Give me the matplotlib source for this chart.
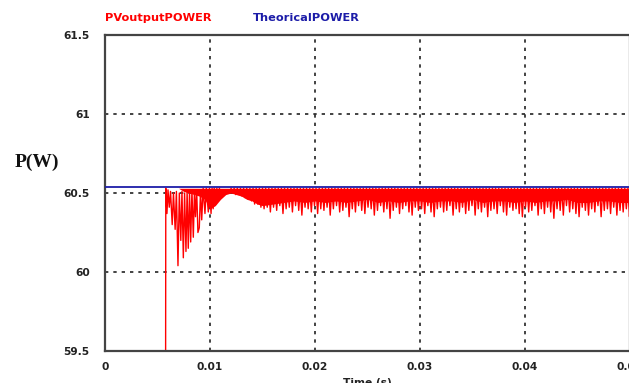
import numpy as np
import matplotlib
matplotlib.use("Agg")
import matplotlib.pyplot as plt

# ---------------- data ----------------
theory_power = 60.54          # W, theoretical MPP power
ripple_peak = 60.53           # top of steady-state ripple

# start-up transient (time s, power W)
trans_t = [0.00577, 0.00579, 0.00590, 0.00600, 0.00612, 0.00624, 0.00640, 0.00652,
           0.00668, 0.00680, 0.00695, 0.00708, 0.00722, 0.00733, 0.00746, 0.00758,
           0.00771, 0.00782, 0.00793, 0.00805, 0.00816, 0.00828, 0.00841, 0.00852,
           0.00862, 0.00873, 0.00885, 0.00898, 0.00910, 0.00921, 0.00935, 0.00952,
           0.00965, 0.00984, 0.00995, 0.01010, 0.01020, 0.01030, 0.01040, 0.01055,
           0.01065, 0.01080, 0.01090]
trans_v = [59.30, 60.53, 60.37, 60.52, 60.41, 60.51, 60.30, 60.50,
           60.27, 60.51, 60.04, 60.50, 60.20, 60.51, 60.09, 60.50,
           60.13, 60.51, 60.15, 60.51, 60.19, 60.52, 60.22, 60.51,
           60.35, 60.52, 60.25, 60.28, 60.52, 60.33, 60.53, 60.37,
           60.53, 60.38, 60.53, 60.37, 60.53, 60.40, 60.53, 60.43,
           60.53, 60.46, 60.53]

# solid body of the red band (lower edge)
floor_t = [0.0070, 0.0075, 0.0080, 0.0085, 0.0090, 0.0095, 0.0100, 0.0105, 0.0110,
           0.0115, 0.0120, 0.0125, 0.0130, 0.0135, 0.0140,
           0.0145, 0.0150, 0.0160, 0.0170, 0.0180, 0.0190, 0.0200, 0.0210, 0.0220,
           0.0230, 0.0240, 0.0250, 0.0260, 0.0270, 0.0280, 0.0290, 0.0300, 0.0310,
           0.0320, 0.0330, 0.0340, 0.0350, 0.0360, 0.0370, 0.0380, 0.0390, 0.0400,
           0.0410, 0.0420, 0.0430, 0.0440, 0.0450, 0.0460, 0.0470, 0.0480, 0.0490,
           0.0500, 0.0510]
floor_v = [60.53, 60.51, 60.50, 60.49, 60.48, 60.46, 60.40, 60.42, 60.46,
           60.49, 60.50, 60.49, 60.48, 60.46, 60.45,
           60.43, 60.42, 60.43, 60.44, 60.45, 60.44, 60.45, 60.44, 60.45,
           60.44, 60.45, 60.46, 60.44, 60.45, 60.44, 60.45, 60.45, 60.44,
           60.45, 60.45, 60.44, 60.46, 60.44, 60.45, 60.45, 60.44, 60.45,
           60.44, 60.45, 60.45, 60.46, 60.44, 60.44, 60.45, 60.45, 60.44,
           60.44, 60.45]

# steady-state ripple: dip of each switching cycle (one every 0.3 ms from 12 ms)
ripple_start = 0.0120
ripple_step = 0.0003
ripple_dip = [60.50, 60.49, 60.49, 60.48, 60.47, 60.46, 60.45, 60.43, 60.43, 60.41,
              60.40, 60.41, 60.38, 60.41, 60.39, 60.42, 60.37, 60.40, 60.41, 60.38,
              60.42, 60.39, 60.36, 60.41, 60.40, 60.38, 60.42, 60.37, 60.40, 60.39,
              60.41, 60.36, 60.40, 60.42, 60.38, 60.39, 60.41, 60.35, 60.40, 60.38,
              60.42, 60.39, 60.37, 60.41, 60.40, 60.36, 60.39, 60.42, 60.38, 60.40,
              60.34, 60.39, 60.41, 60.37, 60.40, 60.42, 60.38, 60.36, 60.41, 60.39,
              60.40, 60.37, 60.42, 60.38, 60.35, 60.40, 60.41, 60.38, 60.39, 60.42,
              60.36, 60.40, 60.38, 60.41, 60.37, 60.39, 60.42, 60.36, 60.40, 60.38,
              60.41, 60.35, 60.39, 60.40, 60.37, 60.42, 60.38, 60.36, 60.41, 60.39,
              60.40, 60.37, 60.35, 60.41, 60.38, 60.39, 60.42, 60.36, 60.40, 60.37,
              60.41, 60.38, 60.34, 60.40, 60.39, 60.36, 60.42, 60.38, 60.40, 60.37,
              60.35, 60.41, 60.39, 60.36, 60.40, 60.38, 60.42, 60.35, 60.39, 60.40,
              60.37, 60.41, 60.36, 60.39, 60.38, 60.40, 60.35, 60.41, 60.38, 60.39]

x_ticks = [0, 0.01, 0.02, 0.03, 0.04, 0.05]
x_tick_labels = ["0", "0.01", "0.02", "0.03", "0.04", "0.05"]
y_ticks = [59.5, 60, 60.5, 61, 61.5]
y_tick_labels = ["59.5", "60", "60.5", "61", "61.5"]

# ---------------- figure ----------------
RED = "#ff0000"
BLUE = "#1c1ca8"
FONT = "DejaVu Sans"

fig = plt.figure(figsize=(6.29, 3.83), dpi=100)
ax = fig.add_axes([105/629, 32/383, 525/629, 316/383])

# ripple zigzag built from the dip list
rt = ripple_start + ripple_step * np.arange(len(ripple_dip))
zx = np.empty(2 * len(rt))
zy = np.empty(2 * len(rt))
zx[0::2] = rt
zx[1::2] = rt + ripple_step / 2
zy[0::2] = ripple_peak
zy[1::2] = ripple_dip

ax.fill_between(floor_t, floor_v, ripple_peak, color=RED, lw=0, zorder=2)
ax.plot(zx, zy, color=RED, lw=1.0, zorder=2)
ax.plot(trans_t, trans_v, color=RED, lw=1.0, zorder=2)
ax.axhline(theory_power, color=BLUE, lw=1.3, zorder=3)

ax.set_xlim(0, 0.05)
ax.set_ylim(59.5, 61.5)
ax.set_xticks(x_ticks)
ax.set_xticklabels(x_tick_labels)
ax.set_yticks(y_ticks)
ax.set_yticklabels(y_tick_labels)

for lab in ax.get_xticklabels() + ax.get_yticklabels():
    lab.set_fontfamily(FONT)
    lab.set_fontweight("bold")
    lab.set_fontsize(7.7)
    lab.set_color("#222222")
ax.tick_params(axis="both", length=0)
ax.tick_params(axis="y", pad=11)
ax.tick_params(axis="x", pad=8)

ax.grid(True, color="#222222", lw=1.2, linestyle=(0, (2, 3)))
ax.set_axisbelow(True)
for sp in ax.spines.values():
    sp.set_color("#444444")
    sp.set_linewidth(1.6)

ax.set_xlabel("Time (s)", fontfamily=FONT, fontweight="bold",
              fontsize=7.7, color="#222222", labelpad=4)
fig.text(15/629, 1 - 162/383, "P(W)", fontfamily="Liberation Serif",
         fontweight="bold", fontsize=14, va="center", ha="left", color="#111111")

fig.text(105/629, 1 - 18/383, "PVoutputPOWER", fontfamily=FONT,
         fontweight="bold", fontsize=8.2, color=RED, va="center", ha="left")
fig.text(253/629, 1 - 18/383, "TheoricalPOWER", fontfamily=FONT,
         fontweight="bold", fontsize=8.2, color=BLUE, va="center", ha="left")

fig.savefig("out.png", dpi=100)
